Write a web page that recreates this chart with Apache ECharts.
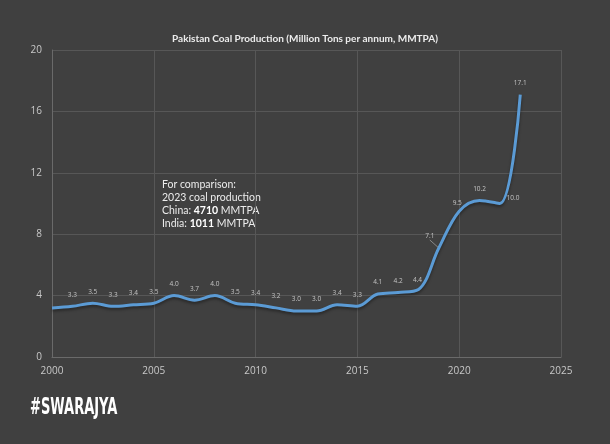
<!DOCTYPE html>
<html><head><meta charset="utf-8">
<script src="https://cdn.jsdelivr.net/npm/echarts@6/dist/echarts.min.js"></script>
<style>html,body{margin:0;padding:0;background:#404040;}#c{width:610px;height:444px;}</style>
</head><body><div id="c"></div>
<script>
const years = [2000,2001,2002,2003,2004,2005,2006,2007,2008,2009,2010,2011,2012,2013,2014,2015,2016,2017,2018,2019,2020,2021,2022,2023];
const production = [3.2,3.3,3.5,3.3,3.4,3.5,4.0,3.7,4.0,3.5,3.4,3.2,3.0,3.0,3.4,3.3,4.1,4.2,4.4,7.1,9.5,10.2,10.0,17.1];
const labelShown = [false,true,true,true,true,true,true,true,true,true,true,true,true,true,true,true,true,true,true,true,true,true,true,true];
const xTicks = [2000,2005,2010,2015,2020,2025];
const yTicks = [0,4,8,12,16,20];

const labelShift = {2018:[-1,2], 2019:[-9,0], 2020:[-2,3], 2022:[13,6]};
const data = years.map((y,i)=>{
  const item = {value:[y,production[i]]};
  if(!labelShown[i]) item.label={show:false};
  if(y===2019) item.labelLine={show:true};
  return item;
});

const chart = echarts.init(document.getElementById('c'));
chart.setOption({
  backgroundColor:'#404040',
  animation:false,
  title:{text:'Pakistan Coal Production (Million Tons per annum, MMTPA)',left:'center',top:29,
    textStyle:{color:'#ececec',fontSize:10,fontWeight:'bold',fontFamily:'Lato'}},
  grid:{left:52,right:49,top:50,bottom:87},
  xAxis:{type:'value',min:2000,max:2025,interval:5,
    axisLine:{show:true,lineStyle:{color:'#6a6a6a'}},axisTick:{show:false},
    splitLine:{show:true,lineStyle:{color:'#575757',width:1}},
    axisLabel:{color:'#c8c8c8',fontSize:10,fontFamily:'Open Sans',margin:9,formatter:v=>String(v)}},
  yAxis:{type:'value',min:0,max:20,interval:4,
    axisLine:{show:true,lineStyle:{color:'#6a6a6a'}},axisTick:{show:false},
    splitLine:{show:true,lineStyle:{color:'#575757',width:1}},
    axisLabel:{color:'#c8c8c8',fontSize:10,fontFamily:'Open Sans',margin:10}},
  series:[{type:'line',data:data,smooth:0.35,symbol:'circle',symbolSize:2,showSymbol:true,
    itemStyle:{color:'rgba(91,155,213,0)',borderWidth:0},
    lineStyle:{color:'#5b9bd5',width:3,shadowColor:'rgba(0,0,0,0.4)',shadowBlur:3,shadowOffsetY:2},
    label:{show:true,position:'top',distance:7,color:'#c4c4c4',fontSize:6.5,fontFamily:'Open Sans',
      formatter:p=>p.value[1].toFixed(1)},
    labelLine:{show:false,lineStyle:{color:'#9a9a9a',width:0.8}},
    labelLayout:function(p){
      const s = labelShift[years[p.dataIndex]];
      return s ? {dx:s[0],dy:s[1],hideOverlap:false} : {hideOverlap:false};
    }}],
  graphic:[
    {type:'text',left:162,top:178,style:{
      text:'For comparison:\n2023 coal production\nChina: {b|4710} MMTPA\nIndia: {b|1011} MMTPA',
      fill:'#ececec',font:'10.5px Lato',lineHeight:13,
      rich:{b:{fontWeight:'bold',fill:'#ffffff',fontSize:10.5,fontFamily:'Lato'}}}},
    {type:'text',x:30,y:397,scaleX:0.63,style:{text:'#SWARAJYA',fill:'#ffffff',
      font:'bold 23px "DejaVu Sans Condensed", "DejaVu Sans", sans-serif'}}
  ]
});
</script></body></html>
